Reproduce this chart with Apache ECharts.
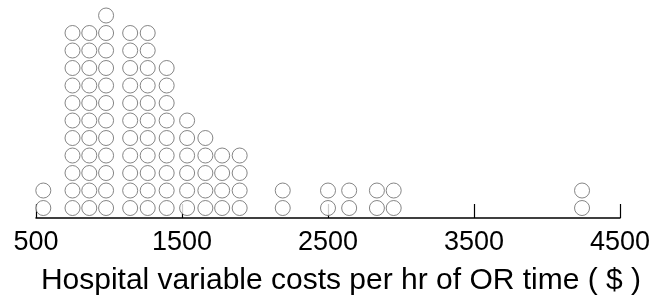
<!DOCTYPE html>
<html>
<head>
<meta charset="utf-8">
<script src="https://cdn.jsdelivr.net/npm/echarts@6/dist/echarts.min.js"></script>
<style>
  html, body { margin: 0; padding: 0; background: #fff; }
  #chart { width: 667px; height: 295px; }
</style>
</head>
<body>
<div id="chart"></div>
<script>
// dot plot: one circle per hospital, stacked by cost bin
const binCenters = [550, 750, 865, 980, 1145, 1265, 1395, 1535, 1660, 1775, 1895, 2190, 2500, 2645, 2835, 2950, 4240]
const binCounts  = [2, 11, 11, 12, 11, 11, 9, 6, 5, 4, 4, 2, 2, 2, 2, 2, 2]
const xTicks = [500, 1500, 2500, 3500, 4500]
const xTitle = 'Hospital variable costs per hr of OR time ( $ )'

// stack the circles of each bin
const points = []
binCenters.forEach((x, i) => {
  for (let k = 0; k < binCounts[i]; k++) points.push([x, k])
})

const myChart = echarts.init(document.getElementById('chart'))
myChart.setOption({
  animation: false,
  grid: { left: 36, right: 47, top: 0, bottom: 77, outerBoundsMode: 'none' },
  xAxis: {
    type: 'value',
    min: xTicks[0],
    max: xTicks[xTicks.length - 1],
    interval: 1000,
    splitLine: { show: false },
    axisLine: { show: true, onZero: false, lineStyle: { color: '#000', width: 1.5 } },
    axisTick: { show: true, inside: true, length: 14, lineStyle: { color: '#000', width: 1.2 } },
    axisLabel: {
      margin: 11,
      fontSize: 27,
      color: '#000',
      fontFamily: 'Liberation Sans, Arial, sans-serif',
      formatter: v => String(v)
    },
    name: xTitle,
    nameLocation: 'middle',
    nameGap: 48,
    nameTextStyle: {
      fontSize: 30,
      color: '#000',
      fontFamily: 'Liberation Sans, Arial, sans-serif',
      padding: [0, 0, 0, 26]
    }
  },
  yAxis: {
    type: 'value',
    min: -0.57,
    max: 11.886,
    show: false
  },
  series: [{
    type: 'scatter',
    data: points,
    symbol: 'circle',
    symbolSize: 15,
    itemStyle: { color: '#fff', borderColor: '#666', borderWidth: 1 }
  }]
})
</script>
</body>
</html>
